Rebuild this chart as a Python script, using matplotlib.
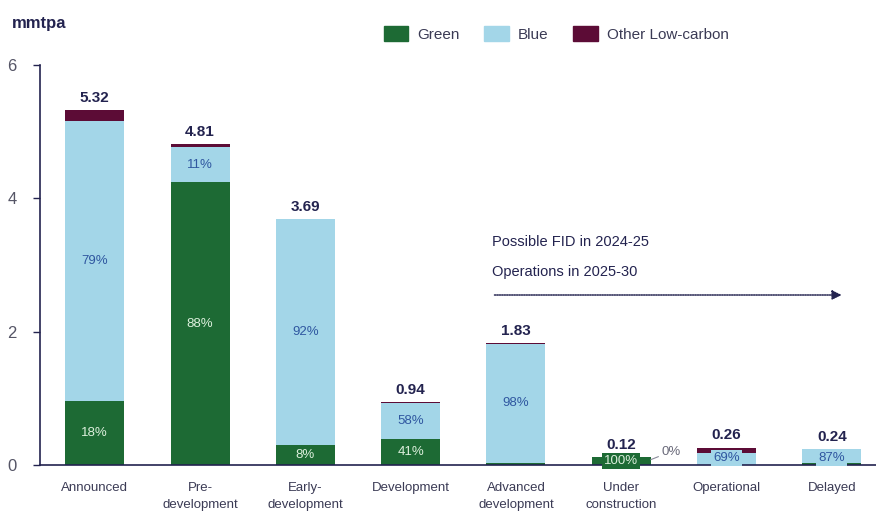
import matplotlib.pyplot as plt
from matplotlib.patches import Patch
import numpy as np

plt.rcParams['font.family'] = ['Liberation Sans', 'DejaVu Sans']

categories = ["Announced", "Pre-\ndevelopment", "Early-\ndevelopment", "Development",
              "Advanced\ndevelopment", "Under\nconstruction", "Operational", "Delayed"]
green = [0.96, 4.24, 0.30, 0.385, 0.03, 0.12, 0.00, 0.03]
blue = [4.20, 0.53, 3.39, 0.545, 1.79, 0.00, 0.18, 0.21]
other = [0.16, 0.04, 0.00, 0.01, 0.01, 0.00, 0.08, 0.00]
totals = [5.32, 4.81, 3.69, 0.94, 1.83, 0.12, 0.26, 0.24]
green_pct = ["18%", "88%", "8%", "41%", None, "100%", None, None]
blue_pct = ["79%", "11%", "92%", "58%", "98%", None, "69%", "87%"]

C_GREEN = "#1d6a34"
C_BLUE = "#a3d6e8"
C_OTHER = "#5c0c36"
NAVY = "#23234f"
TXT = "#3b3b55"

fig = plt.figure(figsize=(8.76, 5.19), dpi=100)
ax = fig.add_axes([0.0457, 0.104, 0.9543, 0.7708])

x = np.arange(len(categories))
w = 0.56
g = np.array(green)
b = np.array(blue)
o = np.array(other)
ax.bar(x, g, w, color=C_GREEN, label="Green")
ax.bar(x, b, w, bottom=g, color=C_BLUE, label="Blue")
ax.bar(x, o, w, bottom=g + b, color=C_OTHER, label="Other Low-carbon")

for i, t in enumerate(totals):
    ax.text(x[i], t + 0.08, f"{t:.2f}", ha="center", va="bottom",
            fontsize=11, fontweight="bold", color=NAVY)

for i in range(len(x)):
    tiny = totals[i] < 0.5
    if green_pct[i]:
        ypos = g[i] / 2
        kw = {}
        if tiny:
            kw = dict(bbox=dict(boxstyle="square,pad=0.15", fc=C_GREEN, ec="none"))
        ax.text(x[i], ypos, green_pct[i], ha="center", va="center",
                fontsize=9.5, color="#dcefdc", **kw)
    if blue_pct[i]:
        ypos = g[i] + b[i] / 2
        kw = {}
        if tiny:
            ypos = 0.1
            kw = dict(bbox=dict(boxstyle="square,pad=0.15", fc=C_BLUE, ec="none"))
        ax.text(x[i], ypos, blue_pct[i], ha="center", va="center",
                fontsize=9.5, color="#2f57a0", **kw)

# zero share of blue in the under-construction bar
ax.annotate("0%", xy=(x[5] + w / 2, 0.08), xytext=(x[5] + w / 2 + 0.1, 0.2),
            fontsize=9.5, color="#6a6a7a", va="center", ha="left",
            arrowprops=dict(arrowstyle="-", color="#8a8a9a", lw=0.8,
                            shrinkA=0, shrinkB=0))

# timeline note
ax.text(3.77, 3.35, "Possible FID in 2024-25", fontsize=10.5, color=NAVY, va="center")
ax.text(3.77, 2.90, "Operations in 2025-30", fontsize=10.5, color=NAVY, va="center")
ax.annotate("", xy=(7.12, 2.55), xytext=(3.77, 2.55),
            arrowprops=dict(arrowstyle="-|>", color=NAVY, lw=1.1, ls=(0, (0.8, 0.8)),
                            mutation_scale=14))

ax.set_xlim(-0.52, 7.42)
ax.set_ylim(0, 6)
ax.set_yticks([0, 2, 4, 6])
ax.set_xticks(x)
ax.set_xticklabels(categories, fontsize=9.5, color=TXT, linespacing=1.6)
ax.tick_params(axis="x", length=0, pad=12)
ax.tick_params(axis="y", length=5, width=1, color=NAVY, labelsize=12,
               labelcolor="#555566", pad=12)
for s in ["top", "right"]:
    ax.spines[s].set_visible(False)
ax.spines["left"].set_color(NAVY)
ax.spines["bottom"].set_color(NAVY)
ax.spines["left"].set_linewidth(1.2)
ax.spines["bottom"].set_linewidth(1.2)

fig.text(0.013, 0.955, "mmtpa", fontsize=12, fontweight="bold", color=NAVY, va="center")

handles = [Patch(color=C_GREEN, label="Green"), Patch(color=C_BLUE, label="Blue"),
           Patch(color=C_OTHER, label="Other Low-carbon")]
fig.legend(handles=handles, loc="center", bbox_to_anchor=(0.635, 0.935), ncol=3,
           frameon=False, fontsize=11, labelcolor=TXT, handlelength=1.6,
           handleheight=1.2, columnspacing=1.6, handletextpad=0.6)

fig.savefig("out.png", dpi=100)
